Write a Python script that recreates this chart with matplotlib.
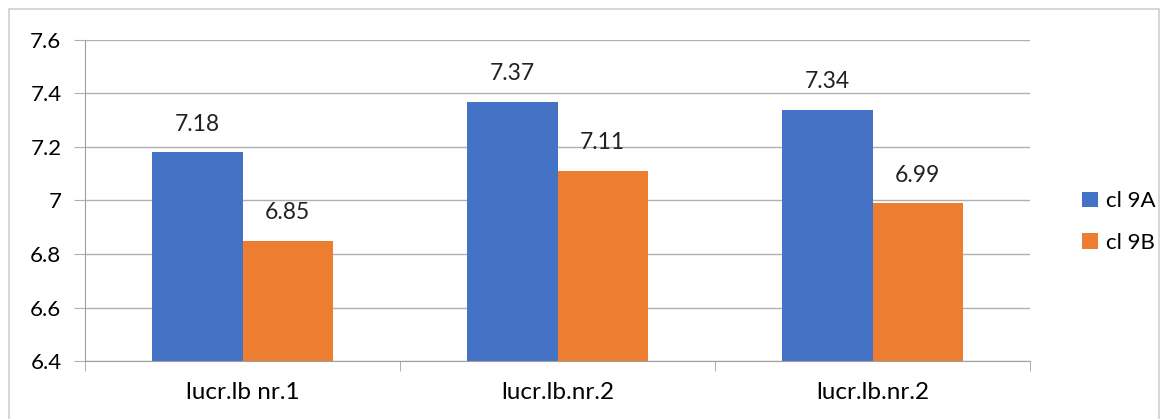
import numpy as np
import matplotlib.pyplot as plt
from matplotlib.patches import Rectangle

categories = ['lucr.lb nr.1', 'lucr.lb.nr.2', 'lucr.lb.nr.2']
series_names = ['cl 9A', 'cl 9B']
cl_9a = [7.18, 7.37, 7.34]
cl_9b = [6.85, 7.11, 6.99]
y_ticks = [6.4, 6.6, 6.8, 7.0, 7.2, 7.4, 7.6]
y_tick_labels = ['6.4', '6.6', '6.8', '7', '7.2', '7.4', '7.6']

plt.rcParams['font.family'] = ['Lato', 'DejaVu Sans']

fig = plt.figure(figsize=(11.63, 4.19), dpi=100)
fig.patches.append(Rectangle((9 / 1163, -0.01), 1150 / 1163, 1 - 9 / 419 + 0.01,
                             transform=fig.transFigure, fill=False,
                             edgecolor='#d0d0d0', linewidth=1.2))

ax = fig.add_axes([85 / 1163, 1 - 361 / 419, 945 / 1163, 321 / 419])

x = np.arange(len(categories))
w = 0.287
b1 = ax.bar(x - w / 2, np.array(cl_9a) - 6.4, w, bottom=6.4,
            color='#4472C4', label=series_names[0])
b2 = ax.bar(x + w / 2, np.array(cl_9b) - 6.4, w, bottom=6.4,
            color='#ED7D31', label=series_names[1])

# labels boven de staven
for bars, vals in [(b1, cl_9a), (b2, cl_9b)]:
    for rect, v in zip(bars, vals):
        ax.text(rect.get_x() + rect.get_width() / 2, v + 0.105, f'{v:g}',
                ha='center', va='center', fontsize=16.5, color='#222222')

ax.set_ylim(6.4, 7.6)
ax.set_xlim(-0.5, len(categories) - 0.5)
ax.set_yticks(y_ticks)
ax.set_yticklabels(y_tick_labels, fontsize=16)
ax.yaxis.grid(True, color='#b0b0b0', linewidth=1)
ax.set_axisbelow(True)

ax.set_xticks(x)
ax.set_xticklabels(categories, fontsize=17.5)
ax.tick_params(axis='x', length=0, pad=15)
ax.set_xticks(np.arange(-0.5, len(categories)), minor=True)
ax.tick_params(axis='x', which='minor', length=7, color='#a0a0a0')
ax.tick_params(axis='y', length=8, color='#b0b0b0', pad=9)

for s in ['top', 'right']:
    ax.spines[s].set_visible(False)
ax.spines['left'].set_color('#a0a0a0')
ax.spines['bottom'].set_color('#a0a0a0')

fig.legend(handles=[b1, b2], loc='center left', bbox_to_anchor=(1062 / 1163, 1 - 222 / 419),
           frameon=False, fontsize=16, handlelength=0.7, handleheight=0.7,
           handletextpad=0.4, labelspacing=0.95)

fig.savefig('out.png', dpi=100)
